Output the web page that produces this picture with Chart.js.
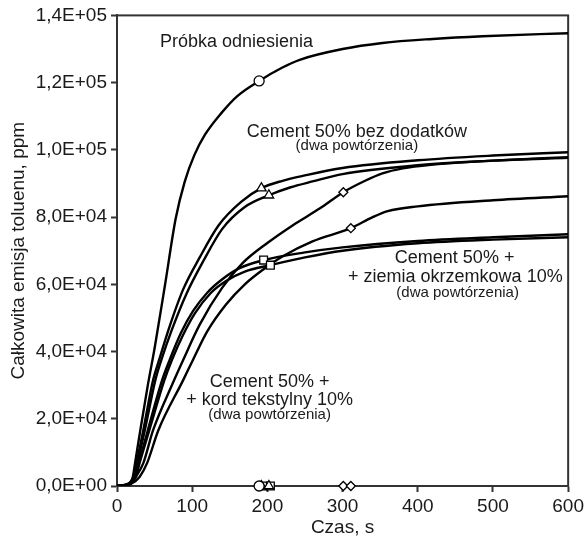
<!DOCTYPE html>
<html>
<head>
<meta charset="utf-8">
<script src="https://cdn.jsdelivr.net/npm/chart.js@4/dist/chart.umd.min.js"></script>
<style>
html,body{margin:0;padding:0;background:#fff}
#wrap{width:587px;height:537px;position:relative}
</style>
</head>
<body>
<div id="wrap"><canvas id="c"></canvas></div>
<script>
// ── Axis ticks ──
const xTicks=[0,100,200,300,400,500,600];
const yTicks=[0,20000,40000,60000,80000,100000,120000,140000];
const yTickLabels=['0,0E+00','2,0E+04','4,0E+04','6,0E+04','8,0E+04','1,0E+05','1,2E+05','1,4E+05'];

// ── Curves (time s, toluene ppm) ──
const refT=[0,10,18,21,24,31,41,50,64,78,90,103,117,139,160,189,220,243,300,353,420,486,600];
const refV=[0,300,1200,2700,6800,16600,30000,41000,60000,79500,90500,98500,104500,111000,116000,120500,124500,126800,130000,131800,133000,133800,134700];

const cemAT=[0,10,18,22,26,35,48,56,70,88,110,135,165,192,220,250,300,400,500,600];
const cemAV=[0,300,1200,2700,6800,16600,31500,37500,47500,58500,68000,77500,84500,88600,90800,92400,94600,96900,98300,99300];
const cemBT=[0,10,18,23,27,37,51,59,73,92,115,140,170,202,230,260,300,400,500,600];
const cemBV=[0,250,1000,2700,6800,16600,31500,37500,46500,57000,67000,76500,83000,86500,88800,90600,92800,95400,96800,97800];

const diaAT=[0,10,19,24,29,41,60,70,85,101,120,140,163,195,250,300,400,500,600];
const diaAV=[0,250,1000,2700,6800,16600,31500,37500,45500,52000,57500,61500,64800,67200,69500,71000,72900,74000,74900];
const diaBT=[0,10,19,25,30,43,63,73,88,104,125,145,170,204,250,300,400,500,600];
const diaBV=[0,200,900,2700,6800,16600,31500,37500,45000,51500,57500,61000,63800,65700,68000,70000,72200,73300,74000];

const cordAT=[0,10,19,25,35,48,74,88,110,140,167,200,234,270,301,330,353,380,420,500,600];
const cordAV=[0,200,800,2700,6800,16600,30500,37500,48000,59000,66300,72300,77600,82600,87400,90800,93000,94500,95600,96800,97600];
const cordBT=[0,10,19,30,40,55,88,101,120,145,170,195,220,260,311,340,360,400,500,600];
const cordBV=[0,200,700,2700,6800,16600,31500,37500,46000,54000,60000,64500,68300,72800,76700,80000,81800,83200,85000,86200];

// ── Markers ──
const circT=[189], circV=[120500];
const triT=[192,202], triV=[88600,86500];
const sqT=[195,204], sqV=[67200,65700];
const diamT=[301,311], diamV=[87400,76700];

// ── Labels (data coords) ──
const notes=[
  {t:'Próbka odniesienia',x:159,y:132000,s:18},
  {t:'Cement 50% bez dodatków',x:319,y:105200,s:18},
  {t:'(dwa powtórzenia)',x:319,y:101100,s:15},
  {t:'Cement 50% +',x:449,y:67800,s:18},
  {t:'+ ziemia okrzemkowa 10%',x:450,y:62100,s:18},
  {t:'(dwa powtórzenia)',x:453,y:57400,s:15},
  {t:'Cement 50% +',x:203,y:30900,s:18},
  {t:'+ kord tekstylny 10%',x:203,y:25600,s:18},
  {t:'(dwa powtórzenia)',x:203,y:21100,s:15}
];

const FONT='"Liberation Sans", Arial, sans-serif';
const INK='#1a1a1a';
Chart.defaults.font.family=FONT;
Chart.defaults.color=INK;

const pts=(T,V)=>T.map((t,i)=>({x:t,y:V[i]}));
const zero=T=>T.map(t=>({x:t,y:0}));

function curve(T,V){
  return {data:pts(T,V),showLine:true,borderColor:'#000',borderWidth:2.4,pointRadius:0,
    cubicInterpolationMode:'monotone',fill:false};
}
function marks(data,style,r){
  return {data,showLine:false,pointStyle:style,pointRadius:r,pointHoverRadius:r,
    pointBackgroundColor:'#fff',pointBorderColor:'#000',pointBorderWidth:1.3,clip:false};
}

const framePlugin={
  id:'frame',
  beforeDatasetsDraw(chart){
    const {ctx,chartArea:a}=chart;
    ctx.save();
    ctx.strokeStyle='#333';ctx.lineWidth=2;
    ctx.strokeRect(a.left,a.top,a.right-a.left,a.bottom-a.top);
    ctx.restore();
  },
  afterDatasetsDraw(chart){
    const {ctx,scales:{x,y}}=chart;
    ctx.save();
    ctx.fillStyle=INK;ctx.textAlign='center';ctx.textBaseline='middle';
    notes.forEach(n=>{
      ctx.font=n.s+'px '+FONT;
      ctx.fillText(n.t,x.getPixelForValue(n.x),y.getPixelForValue(n.y));
    });
    ctx.restore();
  }
};

new Chart(document.getElementById('c'),{
  type:'scatter',
  data:{datasets:[
    marks(pts(circT,circV),'circle',5),
    marks(pts(triT,triV),'triangle',5.5),
    marks(pts(sqT,sqV),'rect',5.5),
    marks(pts(diamT,diamV),'rectRot',4.5),
    marks(zero(circT),'circle',5),
    marks(zero(triT),'triangle',5.5),
    marks(zero(sqT),'rect',5.5),
    marks(zero(diamT),'rectRot',4.5),
    curve(refT,refV),
    curve(cemAT,cemAV),curve(cemBT,cemBV),
    curve(diaAT,diaAV),curve(diaBT,diaBV),
    curve(cordAT,cordAV),curve(cordBT,cordBV)
  ]},
  options:{
    responsive:true,maintainAspectRatio:false,animation:false,
    layout:{padding:{left:0,right:18,top:15,bottom:0}},
    plugins:{legend:{display:false},tooltip:{enabled:false}},
    scales:{
      x:{type:'linear',min:0,max:600,
        afterBuildTicks:s=>{s.ticks=xTicks.map(v=>({value:v}))},
        afterFit:s=>{s.height=51},
        ticks:{font:{size:19},color:INK,padding:3,maxRotation:0,autoSkip:false},
        grid:{drawOnChartArea:false,tickLength:6,tickWidth:2,tickColor:'#333'},
        border:{color:'#333',width:2},
        title:{display:true,text:'Czas, s',font:{size:19,lineHeight:1},color:INK,padding:{top:0,bottom:0}}
      },
      y:{type:'linear',min:0,max:140000,
        afterBuildTicks:s=>{s.ticks=yTicks.map(v=>({value:v}))},
        afterFit:s=>{s.width=117},
        ticks:{font:{size:19},color:INK,padding:4,autoSkip:false,
          callback:(v,i)=>yTickLabels[i]},
        grid:{drawOnChartArea:false,tickLength:6,tickWidth:2,tickColor:'#333'},
        border:{color:'#333',width:2},
        title:{display:true,text:'Całkowita emisja toluenu, ppm',font:{size:19,lineHeight:1},color:INK,padding:{top:9,bottom:0}}
      }
    }
  },
  plugins:[framePlugin]
});
</script>
</body>
</html>
